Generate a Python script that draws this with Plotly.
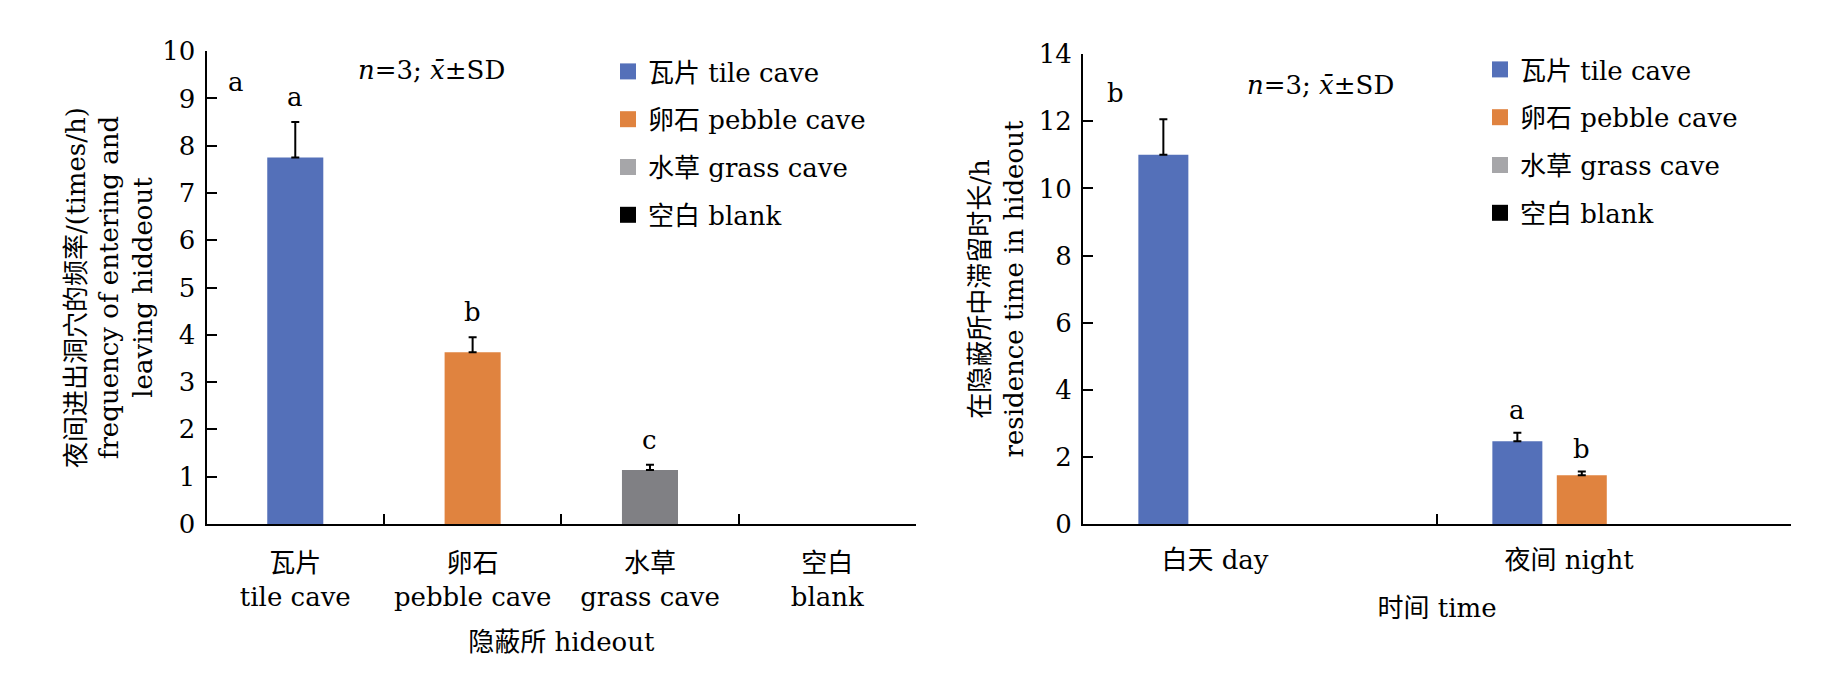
import plotly.graph_objects as go

# ---------------- data ----------------
hideout_cn = ["瓦片", "卵石", "水草", "空白"]
hideout_en = ["tile cave", "pebble cave", "grass cave", "blank"]
freq_mean = [7.75, 3.63, 1.14, 0.0]
freq_sd = [0.75, 0.32, 0.11, None]
freq_letters = ["a", "b", "c", ""]

time_labels = ["白天 day", "夜间 night"]
res_tile = [11.0, 2.46]
res_tile_sd = [1.06, 0.26]
res_pebble = [0.0, 1.45]
res_pebble_sd = [None, 0.11]
res_grass = [0.0, 0.0]
res_blank = [0.0, 0.0]
res_letters_tile = ["", "a"]
res_letters_pebble = ["", "b"]

series_names = ["瓦片 tile cave", "卵石 pebble cave", "水草 grass cave", "空白 blank"]
legend_colors = ["#5470B9", "#E0833F", "#A6A6A9", "#000000"]
left_bar_colors = ["#5470B9", "#E0833F", "#808084", "#000000"]

FONT = "'DejaVu Serif', 'Noto Sans CJK SC', serif"
FS = 26
W, H = 1843, 680
OFF = 8  # page body margin


def px(x):
    return (x - OFF) / W


def py(y):
    return 1 - (y - OFF) / H


def drawn(vals):
    # zero-height bars are not drawn (avoids empty error caps)
    return [v if v else None for v in vals]


def minus_for(sd):
    return [0 if s is not None else None for s in sd]


left_cats = [f"{c}<br>{e}" for c, e in zip(hideout_cn, hideout_en)]

fig = go.Figure()

# ---------- left panel ----------
bw_left = 0.316
fig.add_trace(go.Bar(
    x=left_cats, y=drawn(freq_mean), width=bw_left, offset=-bw_left / 2,
    marker=dict(color=left_bar_colors, line=dict(width=0)),
    error_y=dict(type="data", symmetric=False, array=freq_sd,
                 arrayminus=minus_for(freq_sd), color="black", thickness=2, width=4),
    showlegend=False, xaxis="x", yaxis="y",
))
for i, (n, c) in enumerate(zip(series_names, legend_colors)):
    fig.add_trace(go.Scatter(
        x=[None], y=[None], mode="markers", name=n,
        marker=dict(symbol="square", size=22, color=c),
        xaxis="x", yaxis="y", legend="legend", legendgroup=f"l{i}",
    ))

# ---------- right panel ----------
right_series = [res_tile, res_pebble, res_grass, res_blank]
right_sd = [res_tile_sd, res_pebble_sd, None, None]
for vals, sd, c, n in zip(right_series, right_sd, legend_colors, series_names):
    err = None
    if sd is not None:
        err = dict(type="data", symmetric=False, array=sd, arrayminus=minus_for(sd),
                   color="black", thickness=2, width=4)
    fig.add_trace(go.Bar(
        x=time_labels, y=drawn(vals), name=n, marker=dict(color=c, line=dict(width=0)),
        error_y=err, showlegend=False, xaxis="x2", yaxis="y2",
    ))
for i, (n, c) in enumerate(zip(series_names, legend_colors)):
    fig.add_trace(go.Scatter(
        x=[None], y=[None], mode="markers", name=n,
        marker=dict(symbol="square", size=22, color=c),
        xaxis="x2", yaxis="y2", legend="legend2", legendgroup=f"r{i}",
    ))

BARGAP = 0.272
axis_common = dict(showline=True, linecolor="black", linewidth=2, showgrid=False,
                   zeroline=False, ticks="inside", ticklen=10, tickwidth=2,
                   tickcolor="black", automargin=False,
                   tickfont=dict(family=FONT, size=FS, color="black"))

fig.update_layout(
    width=W, height=H,
    paper_bgcolor="white", plot_bgcolor="white",
    margin=dict(l=0, r=0, t=0, b=0, autoexpand=False),
    font=dict(family=FONT, size=FS, color="black"),
    barmode="group", bargap=BARGAP, bargroupgap=0.224,
    xaxis=dict(domain=[px(206.6), px(916)], anchor="y", type="category",
               range=[-0.5, 3.5], tickson="boundaries", ticklabelstandoff=15,
               title=dict(text="隐蔽所 hideout", standoff=22,
                          font=dict(family=FONT, size=FS)),
               **axis_common),
    yaxis=dict(domain=[py(523.9), py(51.2)], anchor="x", range=[0, 10], dtick=1,
               ticklabelstandoff=4,
               title=dict(text="夜间进出洞穴的频率/(times/h)<br>frequency of entering and<br>leaving hiddeout",
                          standoff=2, font=dict(family=FONT, size=FS)),
               **axis_common),
    xaxis2=dict(domain=[px(1083), px(1791)], anchor="y2", type="category",
                range=[-0.5, 1.5], tickson="boundaries", ticklabelshift=-45,
                ticklabelstandoff=12,
                title=dict(text="时间 time", standoff=25,
                           font=dict(family=FONT, size=FS)),
                **axis_common),
    yaxis2=dict(domain=[py(523.9), py(54.2)], anchor="x2", range=[0, 14], dtick=2,
                ticklabelstandoff=4,
                title=dict(text="在隐蔽所中滞留时长/h<br>residence time in hideout",
                           standoff=8, font=dict(family=FONT, size=FS)),
                **axis_common),
    legend=dict(x=600 / W, y=1 - 40 / H, xanchor="left", yanchor="top",
                bgcolor="rgba(0,0,0,0)", itemsizing="trace", tracegroupgap=11,
                font=dict(family=FONT, size=FS)),
    legend2=dict(x=1472 / W, y=1 - 38 / H, xanchor="left", yanchor="top",
                 bgcolor="rgba(0,0,0,0)", itemsizing="trace", tracegroupgap=11,
                 font=dict(family=FONT, size=FS)),
)

annotations = []
# letters above left bars
for i, (m, s, L) in enumerate(zip(freq_mean, freq_sd, freq_letters)):
    if L:
        annotations.append(dict(x=i, y=m + (s or 0), xref="x", yref="y", text=L,
                                showarrow=False, xanchor="center", yanchor="bottom",
                                yshift=8, font=dict(family=FONT, size=FS)))
# letters above right bars
slot = (1 - BARGAP) / 4
for si, (vals, sds, letters) in enumerate([(res_tile, res_tile_sd, res_letters_tile),
                                           (res_pebble, res_pebble_sd, res_letters_pebble)]):
    off = -(1 - BARGAP) / 2 + slot * (si + 0.5)
    for ci, (v, s, L) in enumerate(zip(vals, sds, letters)):
        if L:
            annotations.append(dict(x=ci + off, y=v + (s or 0), xref="x2", yref="y2",
                                    text=L, showarrow=False, xanchor="center",
                                    yanchor="bottom", yshift=6,
                                    font=dict(family=FONT, size=FS)))
# panel labels and statistics notes
note = "<i>n</i>=3; <i>x̄</i>±SD"
for x, y, t in [(236, 82, "a"), (1115, 93, "b"), (431, 70, note), (1320, 85, note)]:
    annotations.append(dict(x=px(x), y=py(y), xref="paper", yref="paper",
                            text=t, showarrow=False, xanchor="center", yanchor="middle",
                            font=dict(family=FONT, size=FS)))
fig.update_layout(annotations=annotations)

fig.write_html("out.html")
